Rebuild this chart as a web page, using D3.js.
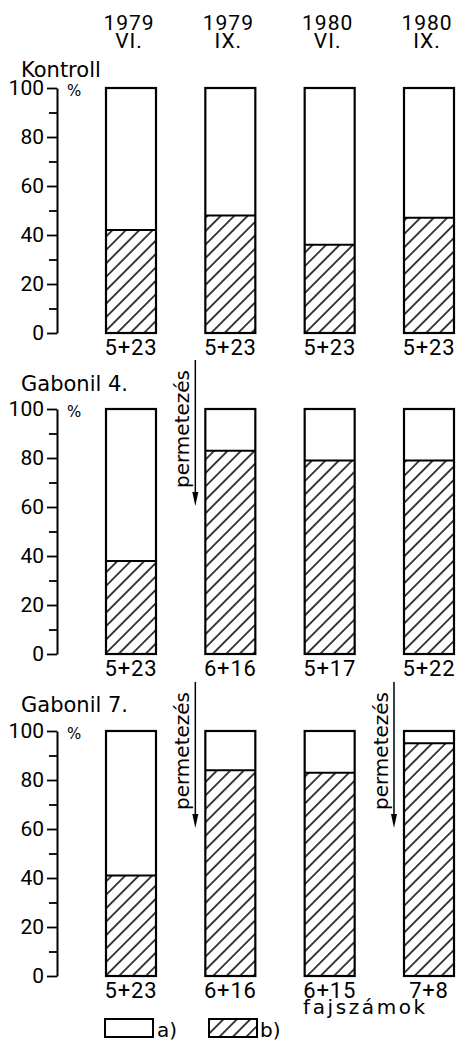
<!DOCTYPE html>
<html><head><meta charset="utf-8">
<script src="https://cdn.jsdelivr.net/npm/d3@7"></script>
<style>
html,body{margin:0;padding:0;background:#fff;}
text{fill:#000;}
.num{font-family:Roboto,'DejaVu Sans',sans-serif;}
.txt{font-family:'DejaVu Sans',sans-serif;}
</style></head>
<body>
<script>
// ---- data ----
const years = ["1979", "1979", "1980", "1980"];
const months = ["VI.", "IX.", "VI.", "IX."];
const panelTitles = ["Kontroll", "Gabonil 4.", "Gabonil 7."];
const valuesKontroll = [42, 48, 36, 47];
const valuesGabonil4 = [38, 83, 79, 79];
const valuesGabonil7 = [41, 84, 83, 95];
const speciesKontroll = ["5+23", "5+23", "5+23", "5+23"];
const speciesGabonil4 = ["5+23", "6+16", "5+17", "5+22"];
const speciesGabonil7 = ["5+23", "6+16", "6+15", "7+8"];
const sprayGabonil4 = [1];
const sprayGabonil7 = [1, 3];
const yTicks = [0, 20, 40, 60, 80, 100];
const yMinorTicks = [10, 30, 50, 70, 90];
const sprayLabel = "permetezés";
const xAxisTitle = "fajszámok";
const legendLabels = ["a)", "b)"];

const panels = [
  {title: panelTitles[0], values: valuesKontroll, species: speciesKontroll, spray: [], top: 88, titleY: 77},
  {title: panelTitles[1], values: valuesGabonil4, species: speciesGabonil4, spray: sprayGabonil4, top: 409, titleY: 391},
  {title: panelTitles[2], values: valuesGabonil7, species: speciesGabonil7, spray: sprayGabonil7, top: 731, titleY: 712}
];

const W = 457, H = 1052, PH = 245;
const svg = d3.select("body").append("svg").attr("width", W).attr("height", H);
svg.append("rect").attr("width", W).attr("height", H).attr("fill", "#fff");

const defs = svg.append("defs");
const pat = defs.append("pattern").attr("id", "hatch").attr("patternUnits", "userSpaceOnUse")
  .attr("width", 9.5).attr("height", 9.5).attr("patternTransform", "rotate(45)");
pat.append("rect").attr("width", 9.5).attr("height", 9.5).attr("fill", "#fff");
pat.append("line").attr("x1", 4.75).attr("x2", 4.75).attr("y1", 0).attr("y2", 9.5)
  .attr("stroke", "#000").attr("stroke-width", 1.5);

const cats = d3.range(years.length);
const x = d3.scaleBand().domain(cats).range([106, 454]).paddingInner(0.4966).paddingOuter(0);

// header (year + month as two lines of one label)
cats.forEach(i => {
  const cx = x(i) + x.bandwidth() / 2 - 2;
  const t = svg.append("text").attr("class", "num").attr("text-anchor", "middle").attr("font-size", 21);
  t.append("tspan").attr("x", cx).attr("y", 30).attr("letter-spacing", 1).text(years[i]);
  t.append("tspan").attr("x", cx).attr("y", 48).attr("letter-spacing", 1).text(months[i]);
});

panels.forEach(p => {
  const y = d3.scaleLinear().domain([0, 100]).range([p.top + PH, p.top]);
  const g = svg.append("g");
  g.append("text").attr("class", "txt").attr("x", 21).attr("y", p.titleY).attr("font-size", 21).text(p.title);
  g.append("text").attr("class", "txt").attr("x", 67).attr("y", p.top + 8).attr("font-size", 15).text("%");
  // axis
  const axis = d3.axisLeft(y).tickValues(yTicks).tickSize(10).tickPadding(3).tickSizeOuter(0);
  const ag = g.append("g").attr("transform", "translate(57,0)").call(axis);
  ag.attr("font-family", null);
  ag.select(".domain").attr("stroke", "#000").attr("stroke-width", 2);
  ag.selectAll(".tick line").attr("stroke", "#000").attr("stroke-width", 1.8);
  ag.selectAll(".tick text").attr("class", "num").attr("font-size", 21).attr("fill", "#000");
  const minor = d3.axisLeft(y).tickValues(yMinorTicks).tickSize(8).tickFormat("").tickSizeOuter(0);
  const mg = g.append("g").attr("transform", "translate(57,0)").call(minor);
  mg.select(".domain").remove();
  mg.selectAll(".tick line").attr("stroke", "#000").attr("stroke-width", 1.8);

  // bars
  cats.forEach(i => {
    const bx = x(i), bw = x.bandwidth();
    g.append("rect").attr("x", bx).attr("y", y(100)).attr("width", bw).attr("height", y(0) - y(100))
      .attr("fill", "#fff");
    g.append("rect").attr("x", bx).attr("y", y(p.values[i])).attr("width", bw)
      .attr("height", y(0) - y(p.values[i])).attr("fill", "url(#hatch)");
    g.append("line").attr("x1", bx).attr("x2", bx + bw).attr("y1", y(p.values[i])).attr("y2", y(p.values[i]))
      .attr("stroke", "#000").attr("stroke-width", 2);
    g.append("rect").attr("x", bx).attr("y", y(100)).attr("width", bw).attr("height", y(0) - y(100))
      .attr("fill", "none").attr("stroke", "#000").attr("stroke-width", 2.2);
    g.append("text").attr("class", "num").attr("x", bx + bw / 2).attr("y", y(0) + 22).attr("text-anchor", "middle")
      .attr("font-size", 22).attr("letter-spacing", 0.8).text(p.species[i]);
  });

  // spray arrows
  p.spray.forEach(i => {
    const lx = x(i) - 10;
    const y0 = y(100) - 49, y1 = y(100) + 97;
    g.append("line").attr("x1", lx).attr("x2", lx).attr("y1", y0).attr("y2", y1 - 8)
      .attr("stroke", "#000").attr("stroke-width", 1.5);
    g.append("path").attr("d", `M${lx - 3},${y1 - 14} L${lx},${y1} L${lx + 3},${y1 - 14} Z`)
      .attr("fill", "#000");
    g.append("text").attr("class", "txt").attr("transform", `translate(${lx - 6},${y(100) + 79}) rotate(-90)`)
      .attr("font-size", 20).text(sprayLabel);
  });
});

// x title
svg.append("text").attr("class", "txt").attr("x", 303).attr("y", 1014)
  .attr("font-size", 20).attr("letter-spacing", 2.6).text(xAxisTitle);

// legend
svg.append("rect").attr("x", 105).attr("y", 1019).attr("width", 48).attr("height", 18)
  .attr("fill", "#fff").attr("stroke", "#000").attr("stroke-width", 2);
svg.append("text").attr("class", "txt").attr("x", 157).attr("y", 1037).attr("font-size", 20).text(legendLabels[0]);
svg.append("rect").attr("x", 209).attr("y", 1019).attr("width", 48).attr("height", 18)
  .attr("fill", "url(#hatch)").attr("stroke", "#000").attr("stroke-width", 2);
svg.append("text").attr("class", "txt").attr("x", 260).attr("y", 1037).attr("font-size", 20).text(legendLabels[1]);
</script>
</body></html>
